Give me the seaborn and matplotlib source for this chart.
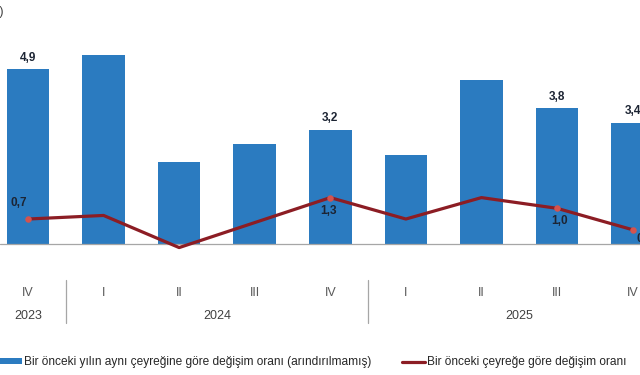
import numpy as np
import pandas as pd
import matplotlib
matplotlib.use("Agg")
import matplotlib.pyplot as plt
from matplotlib.transforms import blended_transform_factory
from matplotlib.patches import Rectangle
from matplotlib.lines import Line2D
import seaborn as sns

# ---- data ----
quarters = ["IV", "I", "II", "III", "IV", "I", "II", "III", "IV"]
years = ["2023", "2024", "2024", "2024", "2024", "2025", "2025", "2025", "2025"]
annual_change = [4.9, 5.3, 2.3, 2.8, 3.2, 2.5, 4.6, 3.8, 3.4]
quarterly_change = [0.7, 0.8, -0.1, 0.6, 1.3, 0.7, 1.3, 1.0, 0.4]
annual_labelled = [0, 4, 7, 8]
quarterly_labelled = [0, 4, 7, 8]
year_labels = ["2023", "2024", "2025"]
legend_labels = ["Bir önceki yılın aynı çeyreğine göre değişim oranı (arındırılmamış)",
                 "Bir önceki çeyreğe göre değişim oranı"]
unit_label = "(%)"

sns.set_theme(style="white")
plt.rcParams["font.family"] = ["Liberation Sans", "DejaVu Sans"]

BLUE = "#2B7BC0"
RED = "#8C1D24"
MARK = "#D4534E"
LABEL = "#1C2433"

W, H = 640, 375
fig = plt.figure(figsize=(W / 100, H / 100), dpi=100)
fig.patch.set_facecolor("white")

def fx(x):
    return x / W

def fy(y):
    return 1 - y / H

ax = fig.add_axes([0, 0.3017, 1, 0.6983])
ax.set_facecolor("white")

keys = [f"{y}-{q}" for y, q in zip(years, quarters)]
df = pd.DataFrame({"key": keys, "annual": annual_change,
                   "quarterly": quarterly_change, "pos": np.arange(len(keys))})

sns.barplot(data=df, x="key", y="annual", color=BLUE, saturation=1,
            width=0.565, linewidth=0, edgecolor="none", ax=ax, errorbar=None)
sns.lineplot(data=df, x="pos", y="quarterly", color=RED, linewidth=2.3,
             ax=ax, legend=False)
ax.scatter(df["pos"].iloc[quarterly_labelled], df["quarterly"].iloc[quarterly_labelled],
           s=22, color=MARK, zorder=5, linewidths=0)

ax.axhline(0, color="#A6A6A6", lw=0.9, zorder=1)
ax.set_xlim(-0.3705, 8.098)
ax.set_ylim(-0.5, 6.835)
for s in ax.spines.values():
    s.set_visible(False)
ax.set_xticks([])
ax.set_yticks([])
ax.set_xlabel("")
ax.set_ylabel("")

def fmt(v):
    return f"{v:.1f}".replace(".", ",")

# bar value labels
for i in annual_labelled:
    ax.annotate(fmt(annual_change[i]), (i, annual_change[i]), xytext=(0, 4),
                textcoords="offset points", ha="center", va="bottom",
                fontsize=8.5, fontweight="bold", color=LABEL)

# line value labels
offsets = {0: (-7, 7, "center", "bottom"), 4: (-1, -5, "center", "top"),
           7: (2, -5, "center", "top"), 8: (3, -2, "left", "top")}
for i in quarterly_labelled:
    dx, dy, ha, va = offsets[i]
    ax.annotate(fmt(quarterly_change[i]), (i, quarterly_change[i]), xytext=(dx, dy),
                textcoords="offset points", ha=ha, va=va,
                fontsize=8.5, fontweight="bold", color=LABEL)

# category axis labels
tr = blended_transform_factory(ax.transData, fig.transFigure)
for i, q in enumerate(quarters):
    ax.text(i, fy(293), q, transform=tr, ha="center", va="center",
            fontsize=9, color="#595959")
year_pos = {}
for i, y in enumerate(years):
    year_pos.setdefault(y, []).append(i)
for y in year_labels:
    p = year_pos[y]
    ax.text((p[0] + p[-1]) / 2, fy(316), y, transform=tr, ha="center", va="center",
            fontsize=9, color="#404040")
for b in [0.5, 4.5]:
    ax.add_line(Line2D([b, b], [fy(280), fy(323)], transform=tr, color="#A6A6A6",
                       lw=0.9, clip_on=False))

# unit label (clipped at the left edge)
fig.text(fx(4), fy(12), unit_label, ha="right", va="center", fontsize=9, color="#404040")

# legend
fig.patches.append(Rectangle((fx(0), fy(364)), fx(22), 6 / H, transform=fig.transFigure,
                             facecolor=BLUE, edgecolor="none"))
fig.text(fx(24), fy(362), legend_labels[0], ha="left", va="center", fontsize=8.6,
         color="#262626")
fig.lines.append(Line2D([fx(402), fx(425)], [fy(362), fy(362)], transform=fig.transFigure,
                        color=RED, lw=2.3))
fig.text(fx(427), fy(362), legend_labels[1], ha="left", va="center", fontsize=8.6,
         color="#262626")

fig.savefig("out.png", dpi=100, facecolor="white")
